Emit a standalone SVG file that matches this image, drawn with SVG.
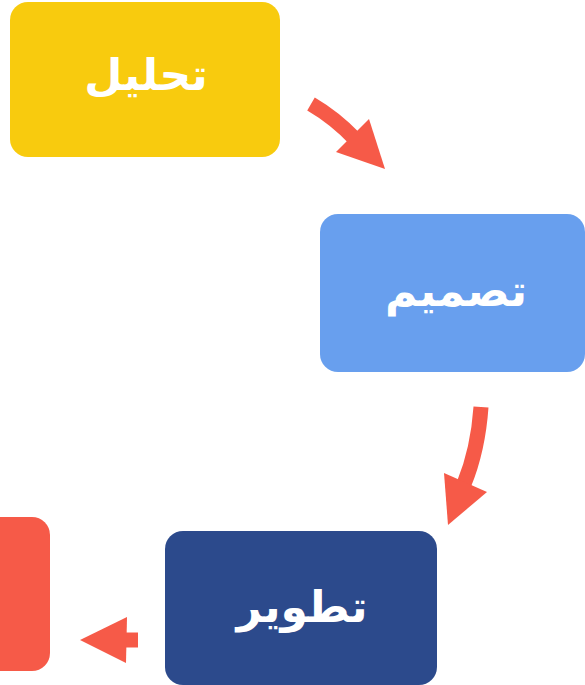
<svg xmlns="http://www.w3.org/2000/svg" width="585" height="685" viewBox="0 0 585 685">
<style>
.lbl{font-family:"DejaVu Sans","Noto Sans",sans-serif;font-weight:bold;font-size:44px;fill:#ffffff;text-anchor:middle;direction:rtl}
.shaft{fill:none;stroke:#F65A48;stroke-width:15}
.head{fill:#F65A48}
</style>
<rect width="585" height="685" fill="#ffffff"/>
<g id="node-analysis">
<rect x="10" y="2" width="270" height="155" rx="18" fill="#F8CB0E"/>
<text class="lbl" x="146" y="90">تحليل</text>
</g>
<g id="node-design">
<rect x="320" y="214" width="265" height="158" rx="18" fill="#689FEE"/>
<text class="lbl" x="456" y="306">تصميم</text>
</g>
<g id="node-development">
<rect x="165" y="531" width="272" height="154" rx="18" fill="#2C4A8C"/>
<text class="lbl" x="302" y="622">تطوير</text>
</g>
<g id="node-next">
<rect x="-40" y="517" width="90" height="154" rx="18" fill="#F65A48"/>
</g>
<g id="connectors">
<path class="shaft" d="M311,104 Q335,118 355,139"/>
<polygon class="head" points="385,169 369,119 336,152"/>
<path class="shaft" d="M481,407 Q478,450 464,484"/>
<polygon class="head" points="448,525 444,473 487,492"/>
<path class="shaft" d="M138,640 L124,640"/>
<polygon class="head" points="80,640 127,617 126,663"/>
</g>
</svg>
